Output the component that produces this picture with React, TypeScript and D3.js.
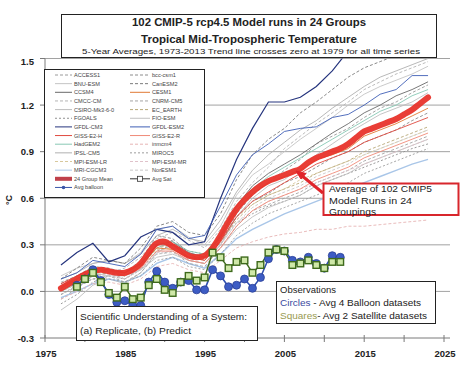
import * as d3 from 'd3';

// ---- data ----
const yTicks = [-0.3, 0.0, 0.3, 0.6, 0.9, 1.2, 1.5];
const xTickLabels = [1975, 1985, 1995, 2005, 2015, 2025];
const xMinorTicks = [1975, 1980, 1985, 1990, 1995, 2000, 2005, 2010, 2015, 2020, 2025];

const modelYears = [1977, 1979, 1981, 1983, 1985, 1987, 1989, 1991, 1993, 1995, 1997, 1999, 2001, 2003, 2005, 2007, 2009, 2011, 2013, 2015, 2017, 2019, 2021, 2023];

const ACCESS1 = [-0.05, 0.02, 0.10, 0.12, 0.08, 0.15, 0.30, 0.33, 0.20, 0.18, 0.30, 0.50, 0.62, 0.70, 0.78, 0.85, 0.95, 1.00, 1.05, 1.12, 1.18, 1.22, 1.28, 1.33];
const bccCsm1 = [0.05, 0.10, 0.16, 0.15, 0.12, 0.20, 0.36, 0.34, 0.25, 0.22, 0.33, 0.48, 0.58, 0.63, 0.70, 0.74, 0.80, 0.86, 0.90, 0.96, 1.00, 1.04, 1.10, 1.15];
const BNU_ESM = [0.10, 0.15, 0.18, 0.20, 0.18, 0.25, 0.40, 0.42, 0.35, 0.30, 0.42, 0.62, 0.75, 0.82, 0.90, 0.98, 1.05, 1.12, 1.20, 1.27, 1.32, 1.36, 1.40, 1.45];
const CanESM2 = [0.08, 0.15, 0.22, 0.20, 0.18, 0.28, 0.42, 0.45, 0.38, 0.36, 0.50, 0.72, 0.88, 0.98, 1.05, 1.15, 1.22, 1.30, 1.38, 1.44, 1.48, 1.52, 1.55, 1.55];
const CCSM4 = [0.00, 0.06, 0.12, 0.14, 0.12, 0.18, 0.30, 0.32, 0.25, 0.22, 0.36, 0.55, 0.68, 0.76, 0.82, 0.88, 0.95, 1.02, 1.08, 1.15, 1.20, 1.26, 1.30, 1.35];
const CESM1 = [0.02, 0.08, 0.14, 0.13, 0.12, 0.17, 0.28, 0.27, 0.22, 0.22, 0.35, 0.52, 0.63, 0.70, 0.74, 0.78, 0.85, 0.88, 0.92, 1.00, 1.04, 1.08, 1.13, 1.18];
const CMCC_CM = [0.06, 0.10, 0.14, 0.12, 0.15, 0.22, 0.34, 0.38, 0.33, 0.28, 0.40, 0.58, 0.70, 0.80, 0.92, 1.00, 1.08, 1.15, 1.22, 1.30, 1.35, 1.40, 1.44, 1.48];
const CNRM_CM5 = [-0.02, 0.03, 0.08, 0.10, 0.06, 0.12, 0.24, 0.26, 0.18, 0.16, 0.28, 0.42, 0.52, 0.56, 0.60, 0.64, 0.70, 0.74, 0.78, 0.84, 0.88, 0.92, 0.96, 1.00];
const CSIRO = [-0.12, -0.05, 0.04, 0.08, 0.05, 0.12, 0.25, 0.30, 0.24, 0.20, 0.30, 0.48, 0.60, 0.68, 0.72, 0.80, 0.88, 0.95, 1.02, 1.08, 1.14, 1.18, 1.22, 1.28];
const EC_EARTH = [0.00, 0.05, 0.10, 0.12, 0.10, 0.16, 0.28, 0.30, 0.24, 0.20, 0.32, 0.46, 0.56, 0.62, 0.66, 0.70, 0.76, 0.80, 0.84, 0.90, 0.94, 0.98, 1.02, 1.06];
const FGOALS = [-0.08, -0.02, 0.06, 0.10, 0.08, 0.14, 0.26, 0.30, 0.26, 0.24, 0.34, 0.44, 0.50, 0.55, 0.58, 0.62, 0.68, 0.72, 0.76, 0.80, 0.84, 0.88, 0.92, 0.95];
const FIO_ESM = [0.04, 0.08, 0.12, 0.10, 0.10, 0.14, 0.22, 0.24, 0.20, 0.18, 0.28, 0.40, 0.48, 0.54, 0.58, 0.62, 0.68, 0.72, 0.76, 0.82, 0.86, 0.90, 0.94, 0.98];
const GFDL_CM3 = [0.17, 0.25, 0.31, 0.19, 0.23, 0.35, 0.40, 0.38, 0.30, 0.32, 0.60, 0.85, 1.05, 1.22, 1.22, 1.25, 1.32, 1.42, 1.55, 1.60, 1.62, 1.62, 1.62, 1.62];
const GFDL_ESM2 = [0.08, 0.12, 0.20, 0.18, 0.16, 0.24, 0.40, 0.42, 0.34, 0.36, 0.55, 0.75, 0.88, 0.95, 1.03, 1.05, 1.06, 1.12, 1.14, 1.20, 1.27, 1.30, 1.39, 1.39];
const GISS_E2_H = [0.05, 0.10, 0.15, 0.14, 0.12, 0.18, 0.30, 0.30, 0.22, 0.20, 0.32, 0.48, 0.58, 0.64, 0.70, 0.76, 0.82, 0.86, 0.90, 0.96, 1.00, 1.04, 1.08, 1.12];
const GISS_E2_R = [0.03, 0.08, 0.13, 0.13, 0.10, 0.15, 0.26, 0.26, 0.20, 0.18, 0.28, 0.42, 0.52, 0.58, 0.62, 0.66, 0.72, 0.76, 0.80, 0.86, 0.90, 0.94, 0.98, 1.02];
const HadGEM2 = [0.00, 0.05, 0.12, 0.14, 0.10, 0.16, 0.28, 0.32, 0.26, 0.24, 0.36, 0.54, 0.66, 0.74, 0.80, 0.86, 0.92, 0.98, 1.04, 1.10, 1.16, 1.20, 1.26, 1.30];
const inmcm4 = [-0.05, 0.00, 0.05, 0.06, 0.04, 0.08, 0.16, 0.18, 0.14, 0.12, 0.20, 0.28, 0.32, 0.35, 0.37, 0.38, 0.40, 0.40, 0.42, 0.42, 0.43, 0.44, 0.45, 0.46];
const IPSL_CM5 = [0.08, 0.12, 0.18, 0.20, 0.18, 0.24, 0.36, 0.40, 0.34, 0.32, 0.46, 0.64, 0.78, 0.88, 0.96, 1.04, 1.10, 1.18, 1.25, 1.32, 1.38, 1.42, 1.46, 1.50];
const MIROC5 = [-0.02, 0.04, 0.08, 0.08, 0.06, 0.10, 0.20, 0.22, 0.16, 0.14, 0.24, 0.36, 0.44, 0.50, 0.54, 0.58, 0.62, 0.66, 0.70, 0.76, 0.80, 0.84, 0.88, 0.92];
const MPI_ESM_LR = [0.02, 0.07, 0.12, 0.12, 0.10, 0.16, 0.27, 0.28, 0.22, 0.20, 0.32, 0.48, 0.56, 0.62, 0.66, 0.72, 0.76, 0.80, 0.84, 0.88, 0.92, 0.96, 1.00, 1.04];
const MPI_ESM_MR = [0.00, 0.05, 0.10, 0.11, 0.08, 0.14, 0.25, 0.26, 0.20, 0.18, 0.30, 0.44, 0.52, 0.58, 0.62, 0.66, 0.70, 0.74, 0.78, 0.82, 0.86, 0.90, 0.94, 0.98];
const MRI_CGCM3 = [-0.04, 0.00, 0.05, 0.08, 0.06, 0.10, 0.18, 0.22, 0.18, 0.15, 0.24, 0.34, 0.40, 0.45, 0.50, 0.54, 0.58, 0.62, 0.66, 0.70, 0.74, 0.78, 0.82, 0.85];
const NorESM1 = [0.01, 0.06, 0.10, 0.10, 0.08, 0.14, 0.24, 0.25, 0.20, 0.18, 0.30, 0.44, 0.54, 0.60, 0.64, 0.68, 0.74, 0.78, 0.82, 0.88, 0.92, 0.96, 1.00, 1.04];

const meanYears = [1977, 1978, 1979, 1980, 1981, 1982, 1983, 1984, 1985, 1986, 1987, 1988, 1989, 1990, 1991, 1992, 1993, 1994, 1995, 1996, 1997, 1998, 1999, 2000, 2001, 2002, 2003, 2004, 2005, 2006, 2007, 2008, 2009, 2010, 2011, 2012, 2013, 2014, 2015, 2016, 2017, 2018, 2019, 2020, 2021, 2022, 2023];
const groupMean = [0.02, 0.05, 0.08, 0.11, 0.13, 0.14, 0.13, 0.12, 0.12, 0.14, 0.18, 0.25, 0.31, 0.32, 0.29, 0.26, 0.23, 0.22, 0.23, 0.28, 0.36, 0.45, 0.53, 0.59, 0.64, 0.68, 0.71, 0.73, 0.75, 0.77, 0.79, 0.83, 0.86, 0.88, 0.90, 0.92, 0.95, 0.99, 1.03, 1.05, 1.07, 1.09, 1.11, 1.14, 1.17, 1.21, 1.25];

const obsYears = [1979, 1980, 1981, 1982, 1983, 1984, 1985, 1986, 1987, 1988, 1989, 1990, 1991, 1992, 1993, 1994, 1995, 1996, 1997, 1998, 1999, 2000, 2001, 2002, 2003, 2004, 2005, 2006, 2007, 2008, 2009, 2010, 2011, 2012];
const avgBalloon = [0.04, 0.08, 0.14, 0.07, -0.02, -0.07, -0.06, -0.09, -0.09, 0.06, 0.13, 0.06, 0.02, 0.06, 0.07, 0.01, 0.01, 0.14, 0.10, 0.03, 0.04, 0.08, 0.02, 0.09, 0.21, 0.27, 0.26, 0.20, 0.19, 0.22, 0.18, 0.15, 0.23, 0.22];
const avgSat = [0.03, 0.08, 0.12, 0.06, -0.01, -0.04, 0.03, -0.05, -0.04, 0.04, 0.08, 0.01, -0.01, 0.06, 0.10, 0.07, 0.09, 0.25, 0.22, 0.15, 0.19, 0.20, 0.12, 0.17, 0.25, 0.27, 0.26, 0.17, 0.18, 0.20, 0.17, 0.15, 0.19, 0.19];

// legend order: left column, right column
const leftNames = ['ACCESS1', 'BNU-ESM', 'CCSM4', 'CMCC-CM', 'CSIRO-Mk3-6-0', 'FGOALS', 'GFDL-CM3', 'GISS-E2-H', 'HadGEM2', 'IPSL-CM5', 'MPI-ESM-LR', 'MRI-CGCM3'];
const rightNames = ['bcc-csm1', 'CanESM2', 'CESM1', 'CNRM-CM5', 'EC_EARTH', 'FIO-ESM', 'GFDL-ESM2', 'GISS-E2-R', 'inmcm4', 'MIROC5', 'MPI-ESM-MR', 'NorESM1'];

const modelValues: Record<string, number[]> = {
  'ACCESS1': ACCESS1, 'BNU-ESM': BNU_ESM, 'CCSM4': CCSM4, 'CMCC-CM': CMCC_CM,
  'CSIRO-Mk3-6-0': CSIRO, 'FGOALS': FGOALS, 'GFDL-CM3': GFDL_CM3, 'GISS-E2-H': GISS_E2_H,
  'HadGEM2': HadGEM2, 'IPSL-CM5': IPSL_CM5, 'MPI-ESM-LR': MPI_ESM_LR, 'MRI-CGCM3': MRI_CGCM3,
  'bcc-csm1': bccCsm1, 'CanESM2': CanESM2, 'CESM1': CESM1, 'CNRM-CM5': CNRM_CM5,
  'EC_EARTH': EC_EARTH, 'FIO-ESM': FIO_ESM, 'GFDL-ESM2': GFDL_ESM2, 'GISS-E2-R': GISS_E2_R,
  'inmcm4': inmcm4, 'MIROC5': MIROC5, 'MPI-ESM-MR': MPI_ESM_MR, 'NorESM1': NorESM1,
};

// styles, kept apart from the values
const modelStyle: Record<string, { color: string; dash?: string; w?: number }> = {
  'ACCESS1': { color: '#9a9a9a', dash: '3,2' },
  'BNU-ESM': { color: '#c4c4c4' },
  'CCSM4': { color: '#6a6a6a' },
  'CMCC-CM': { color: '#b4b4b4', dash: '3,2' },
  'CSIRO-Mk3-6-0': { color: '#bdbdbd' },
  'FGOALS': { color: '#909090', dash: '2,2' },
  'GFDL-CM3': { color: '#26357e', w: 1.2 },
  'GISS-E2-H': { color: '#e04a3f' },
  'HadGEM2': { color: '#88c8b4' },
  'IPSL-CM5': { color: '#b0b0b0' },
  'MPI-ESM-LR': { color: '#d8c89c', dash: '3,2' },
  'MRI-CGCM3': { color: '#a9c6e8', w: 1.4 },
  'bcc-csm1': { color: '#8c8c8c', dash: '3,2' },
  'CanESM2': { color: '#7c7c7c', dash: '3,2' },
  'CESM1': { color: '#e07a35' },
  'CNRM-CM5': { color: '#a4a4a4', dash: '3,2' },
  'EC_EARTH': { color: '#b8a878', dash: '3,2' },
  'FIO-ESM': { color: '#c0c0c0' },
  'GFDL-ESM2': { color: '#3f5fb5' },
  'GISS-E2-R': { color: '#f08a78' },
  'inmcm4': { color: '#e6b4b4', dash: '3,2' },
  'MIROC5': { color: '#9c9c9c', dash: '2,2' },
  'MPI-ESM-MR': { color: '#e0c2ca', dash: '3,2' },
  'NorESM1': { color: '#c8c8c8', dash: '3,2' },
};

const W = 464;
const H = 373;
const font = '"Liberation Sans", Arial, sans-serif';

export default function App() {
  const x = d3.scaleLinear().domain([1975, 2025]).range([45, 444]);
  const y = d3.scaleLinear().domain([-0.3, 1.5]).range([338, 58.5]);
  const plotRight = 450;

  const line = d3.line<[number, number]>().x(d => x(d[0])).y(d => y(d[1]));
  const smooth = d3.line<[number, number]>().x(d => x(d[0])).y(d => y(d[1])).curve(d3.curveCatmullRom);

  const order = [...leftNames, ...rightNames];
  // light ones first, strong ones on top
  const strong = ['GFDL-CM3', 'GFDL-ESM2', 'CESM1', 'GISS-E2-H', 'GISS-E2-R'];
  const drawOrder = order.slice().sort((a, b) => (strong.includes(a) ? 1 : 0) - (strong.includes(b) ? 1 : 0));

  const legendRows = 14;
  const rowY = (i: number) => 75 + i * 8.65;

  return (
    <svg width={W} height={H} style={{ position: 'absolute', left: 0, top: 0, background: '#fff' }} fontFamily={font}>
      <defs>
        <clipPath id="plot">
          <rect x={45} y={58.5} width={plotRight - 45} height={338 - 58.5} />
        </clipPath>
      </defs>

      {/* gridlines */}
      {yTicks.filter(t => t > -0.3).map(t => (
        <line key={t} x1={45} x2={plotRight} y1={y(t)} y2={y(t)} stroke="#8a8a8a" strokeWidth={0.8} />
      ))}

      {/* axes */}
      <line x1={45} x2={45} y1={58.5} y2={338} stroke="#7a7a7a" strokeWidth={1} />
      <line x1={45} x2={plotRight} y1={338} y2={338} stroke="#7a7a7a" strokeWidth={1} />
      {yTicks.map(t => (
        <g key={t}>
          <line x1={40} x2={45} y1={y(t)} y2={y(t)} stroke="#7a7a7a" />
          <text x={34} y={y(t) + 3.5 + (t === 1.5 ? 3 : 0)} textAnchor="end" fontSize={9.5} fontWeight="bold" fill="#222">
            {t.toFixed(1)}
          </text>
        </g>
      ))}
      {xMinorTicks.map(t => (
        <line key={t} x1={x(t)} x2={x(t)} y1={335} y2={342} stroke="#7a7a7a" />
      ))}
      {xTickLabels.map(t => (
        <text key={t} x={x(t) + 1} y={357} textAnchor="middle" fontSize={9.5} fontWeight="bold" fill="#222">
          {t}
        </text>
      ))}
      <text transform="translate(12,200) rotate(-90)" textAnchor="middle" fontSize={9} fontWeight="bold" fill="#222">°C</text>

      {/* model runs */}
      <g clipPath="url(#plot)">
        {drawOrder.map(name => {
          const st = modelStyle[name];
          const pts = modelYears.map((yr, i) => [yr, modelValues[name][i]] as [number, number]);
          return (
            <path key={name} d={line(pts) ?? ''} fill="none" stroke={st.color}
              strokeWidth={st.w ?? 0.9} strokeDasharray={st.dash} />
          );
        })}
        <path d={smooth(meanYears.map((yr, i) => [yr, groupMean[i]] as [number, number])) ?? ''}
          fill="none" stroke="#e8342b" strokeWidth={6} strokeLinecap="round" opacity={0.95} />

        {/* observations */}
        <path d={line(obsYears.map((yr, i) => [yr, avgSat[i]] as [number, number])) ?? ''}
          fill="none" stroke="#3e6a1c" strokeWidth={1.4} />
        <path d={line(obsYears.map((yr, i) => [yr, avgBalloon[i]] as [number, number])) ?? ''}
          fill="none" stroke="#2f4fb0" strokeWidth={1.6} />
        {obsYears.map((yr, i) => (
          <circle key={'b' + yr} cx={x(yr)} cy={y(avgBalloon[i])} r={4} fill="#3d5cc4" stroke="#2a3f96" strokeWidth={0.8} />
        ))}
        {obsYears.map((yr, i) => (
          <rect key={'s' + yr} x={x(yr) - 3.3} y={y(avgSat[i]) - 3.3} width={6.6} height={6.6}
            fill="#cfe8a8" stroke="#3e6a1c" strokeWidth={1.4} />
        ))}
      </g>

      {/* title box */}
      <rect x={61.5} y={14.5} width={375} height={43} fill="#fff" stroke="#222" strokeWidth={1} />
      <text x={249} y={26} textAnchor="middle" fontSize={11} fontWeight="bold" fill="#222"
        textLength={234} lengthAdjust="spacingAndGlyphs">102 CMIP-5 rcp4.5 Model runs in 24 Groups</text>
      <text x={249} y={42.5} textAnchor="middle" fontSize={11} fontWeight="bold" fill="#222"
        textLength={216} lengthAdjust="spacingAndGlyphs">Tropical  Mid-Tropospheric  Temperature</text>
      <text x={251} y={54} textAnchor="middle" fontSize={8} fill="#222"
        textLength={338} lengthAdjust="spacingAndGlyphs">5-Year Averages, 1973-2013 Trend line crosses zero at 1979 for all time series</text>

      {/* legend */}
      <rect x={44.5} y={69.5} width={160} height={128} fill="#fff" stroke="#222" strokeWidth={1} />
      {leftNames.map((name, i) => {
        const st = modelStyle[name];
        return (
          <g key={name}>
            <line x1={55} x2={72} y1={rowY(i)} y2={rowY(i)} stroke={st.color} strokeWidth={1} strokeDasharray={st.dash} />
            <text x={74} y={rowY(i) + 2} fontSize={5.6} fill="#444">{name}</text>
          </g>
        );
      })}
      {rightNames.map((name, i) => {
        const st = modelStyle[name];
        return (
          <g key={name}>
            <line x1={130} x2={150} y1={rowY(i)} y2={rowY(i)} stroke={st.color} strokeWidth={1} strokeDasharray={st.dash} />
            <text x={152} y={rowY(i) + 2} fontSize={5.6} fill="#444">{name}</text>
          </g>
        );
      })}
      <line x1={55} x2={72} y1={rowY(12)} y2={rowY(12)} stroke="#c0404a" strokeWidth={4} />
      <text x={74} y={rowY(12) + 2} fontSize={5.6} fill="#444">24 Group Mean</text>
      <line x1={130} x2={150} y1={rowY(12)} y2={rowY(12)} stroke="#333" strokeWidth={1} />
      <rect x={137.5} y={rowY(12) - 2.5} width={5} height={5} fill="#fff" stroke="#333" strokeWidth={0.8} />
      <text x={152} y={rowY(12) + 2} fontSize={5.6} fill="#444">Avg Sat</text>
      <line x1={55} x2={72} y1={rowY(legendRows - 1)} y2={rowY(legendRows - 1)} stroke="#3a55a8" strokeWidth={1} />
      <circle cx={63.5} cy={rowY(legendRows - 1)} r={1.8} fill="#3a55a8" />
      <text x={74} y={rowY(legendRows - 1) + 2} fontSize={5.6} fill="#444">Avg balloon</text>

      {/* red annotation */}
      <line x1={323} y1={193} x2={301} y2={175} stroke="#e0242a" strokeWidth={3} />
      <path d="M296,171 L306,173.5 L301,179 Z" fill="#e0242a" stroke="#e0242a" strokeWidth={1} />
      <rect x={323.5} y={183.5} width={135} height={31.5} fill="#fff" stroke="#d8262c" strokeWidth={2} />
      <text x={329} y={192} fontSize={9.5} fill="#222" textLength={103} lengthAdjust="spacingAndGlyphs">Average of 102 CMIP5</text>
      <text x={329} y={203.5} fontSize={9.5} fill="#222" textLength={83} lengthAdjust="spacingAndGlyphs">Model Runs in 24</text>
      <text x={329} y={215} fontSize={9.5} fill="#222" textLength={47} lengthAdjust="spacingAndGlyphs">Groupings</text>

      {/* scientific understanding box */}
      <rect x={76.5} y={306.5} width={181} height={34} fill="#fff" stroke="#222" strokeWidth={1} />
      <text x={80} y={320} fontSize={9} fill="#222" textLength={167} lengthAdjust="spacingAndGlyphs">Scientific Understanding of a System:</text>
      <text x={80} y={334} fontSize={9} fill="#222" textLength={111} lengthAdjust="spacingAndGlyphs">(a) Replicate,  (b) Predict</text>

      {/* observations box */}
      <rect x={276.5} y={281.5} width={159} height={42} fill="#fff" stroke="#222" strokeWidth={1} />
      <text x={280} y={293} fontSize={9} fill="#222" textLength={56} lengthAdjust="spacingAndGlyphs">Observations</text>
      <text x={280} y={306} fontSize={9} fill="#222" textLength={141} lengthAdjust="spacingAndGlyphs">
        <tspan fill="#3a4aa0">Circles</tspan> - Avg 4 Balloon datasets
      </text>
      <text x={280} y={319} fontSize={9} fill="#222" textLength={147} lengthAdjust="spacingAndGlyphs">
        <tspan fill="#9a9a50">Squares</tspan>- Avg 2 Satellite datasets
      </text>
    </svg>
  );
}
